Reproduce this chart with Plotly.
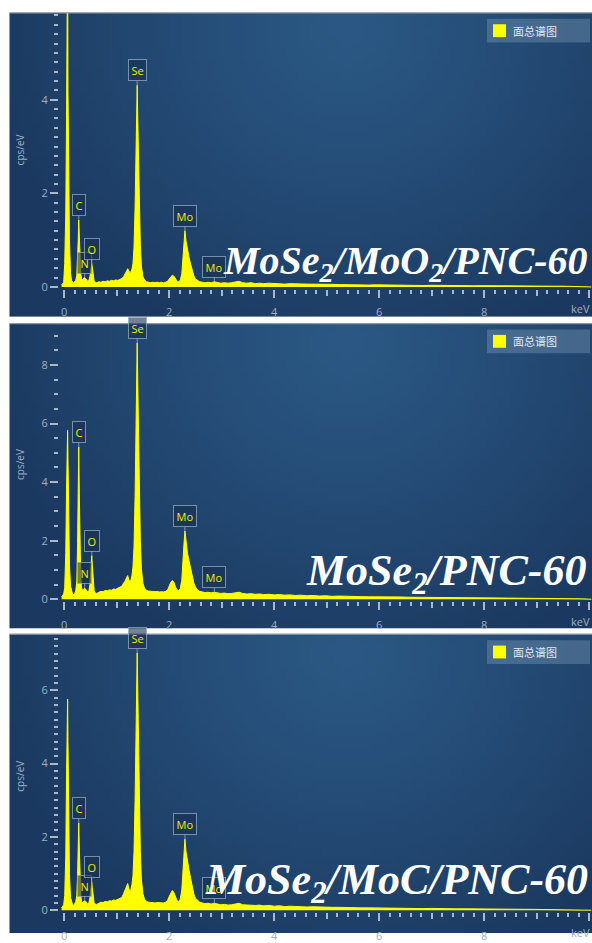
import base64
import math
import struct
import zlib

import plotly.graph_objects as go

# ---------------------------------------------------------------- data
# Energy grid (keV) shared by the three EDS spectra
ENERGY = [
    -0.05, -0.03, -0.01, 0.01, 0.03, 0.045, 0.058, 0.065, 0.072, 0.085, 0.10, 0.12, 0.14, 0.16, 0.18, 0.20, 0.22,
    0.24, 0.255, 0.267, 0.277, 0.288, 0.30, 0.315, 0.33, 0.35, 0.37, 0.39, 0.41, 0.43, 0.45, 0.47, 0.49, 0.505,
    0.515, 0.525, 0.535, 0.55, 0.57, 0.59,
    0.62, 0.66, 0.70, 0.74, 0.78, 0.82, 0.86, 0.90, 0.94, 0.98, 1.02, 1.06, 1.10, 1.13, 1.16, 1.19, 1.21, 1.23,
    1.25, 1.27, 1.29, 1.31, 1.33, 1.35, 1.37, 1.39, 1.41, 1.43, 1.45, 1.47, 1.50, 1.53, 1.57,
    1.61, 1.65, 1.69, 1.73, 1.77, 1.81, 1.85, 1.89, 1.93, 1.97, 2.00, 2.03, 2.06, 2.09, 2.12, 2.15, 2.18, 2.21,
    2.24, 2.26, 2.28, 2.30, 2.32, 2.35, 2.38, 2.41, 2.44, 2.47, 2.50, 2.54, 2.58,
    2.63, 2.68, 2.74, 2.80, 2.86, 2.92, 2.98, 3.05, 3.12, 3.19, 3.26, 3.33, 3.40, 3.48, 3.56, 3.64, 3.72, 3.80,
    3.90, 4.00, 4.10, 4.20, 4.30, 4.40, 4.50, 4.62, 4.74, 4.86, 4.98, 5.10, 5.24, 5.38, 5.52, 5.66, 5.80, 5.95,
    6.10, 6.25, 6.40, 6.55, 6.70, 6.85, 7.00, 7.16, 7.32, 7.48, 7.64, 7.80, 7.96, 8.12, 8.28, 8.44, 8.60, 8.78,
    8.96, 9.14, 9.32, 9.50, 9.68, 9.86, 10.04,
]

# cps/eV, MoSe2/MoO2/PNC-60
CPS_MOO2 = [
    0.04, 0.06, 0.10, 0.5, 1.6, 3.6, 4.3, 7.5, 4.2, 2.6, 1.0, 0.3, 0.14, 0.10, 0.09, 0.11, 0.14,
    0.25, 0.55, 1.0, 1.43, 0.95, 0.5, 0.28, 0.18, 0.15, 0.19, 0.2, 0.18, 0.14, 0.12, 0.14, 0.22, 0.36,
    0.46, 0.5, 0.42, 0.24, 0.13, 0.10,
    0.09, 0.11, 0.10, 0.12, 0.11, 0.13, 0.12, 0.14, 0.13, 0.15, 0.14, 0.16, 0.18, 0.22, 0.27, 0.34, 0.39, 0.33,
    0.30, 0.32, 0.38, 0.5, 0.85, 1.7, 3.0, 4.31, 3.1, 1.8, 0.9, 0.45, 0.22, 0.15, 0.11,
    0.10, 0.09, 0.10, 0.09, 0.10, 0.09, 0.10, 0.09, 0.10, 0.12, 0.17, 0.22, 0.25, 0.23, 0.17, 0.12, 0.11, 0.14,
    0.28, 0.55, 0.95, 1.2, 0.98, 0.75, 0.62, 0.48, 0.34, 0.24, 0.17, 0.13, 0.11,
    0.10, 0.09, 0.10, 0.09, 0.11, 0.09, 0.08, 0.09, 0.08, 0.09, 0.10, 0.12, 0.09, 0.08, 0.09, 0.07, 0.08, 0.07,
    0.08, 0.07, 0.07, 0.06, 0.07, 0.06, 0.065, 0.06, 0.055, 0.06, 0.05, 0.055, 0.05, 0.045, 0.05, 0.045, 0.04, 0.045,
    0.04, 0.04, 0.035, 0.04, 0.035, 0.03, 0.035, 0.03, 0.03, 0.028, 0.03, 0.025, 0.027, 0.024, 0.022, 0.024, 0.02, 0.02,
    0.018, 0.018, 0.016, 0.015, 0.012, 0.01, 0.0,
]

# cps/eV, MoSe2/PNC-60
CPS_PNC = [
    0.08, 0.12, 0.18, 0.4, 1.6, 3.8, 5.2, 5.77, 4.8, 2.8, 1.2, 0.45, 0.25, 0.18, 0.16, 0.2, 0.3,
    0.6, 1.9, 3.8, 5.2, 3.6, 1.7, 0.75, 0.4, 0.3, 0.34, 0.38, 0.34, 0.28, 0.24, 0.28, 0.5, 0.95,
    1.3, 1.49, 1.2, 0.6, 0.3, 0.22,
    0.20, 0.24, 0.27, 0.26, 0.30, 0.29, 0.32, 0.31, 0.35, 0.34, 0.38, 0.40, 0.45, 0.55, 0.62, 0.75, 0.81, 0.68,
    0.60, 0.65, 0.80, 1.1, 1.8, 3.5, 6.2, 8.75, 6.4, 3.8, 2.0, 1.05, 0.55, 0.38, 0.30,
    0.28, 0.27, 0.28, 0.26, 0.27, 0.25, 0.26, 0.25, 0.27, 0.32, 0.45, 0.58, 0.64, 0.58, 0.42, 0.32, 0.30, 0.36,
    0.65, 1.1, 1.85, 2.33, 1.95, 1.55, 1.3, 1.05, 0.78, 0.55, 0.42, 0.32, 0.27,
    0.25, 0.23, 0.24, 0.22, 0.24, 0.21, 0.20, 0.21, 0.19, 0.20, 0.21, 0.24, 0.20, 0.18, 0.19, 0.17, 0.18, 0.16,
    0.17, 0.15, 0.16, 0.14, 0.15, 0.13, 0.14, 0.12, 0.13, 0.11, 0.12, 0.10, 0.11, 0.095, 0.10, 0.09, 0.085, 0.09,
    0.08, 0.075, 0.08, 0.07, 0.07, 0.065, 0.07, 0.06, 0.06, 0.055, 0.055, 0.05, 0.05, 0.045, 0.045, 0.04, 0.04, 0.035,
    0.035, 0.03, 0.03, 0.025, 0.02, 0.015, 0.0,
]

# cps/eV, MoSe2/MoC/PNC-60
CPS_MOC = [
    0.06, 0.10, 0.15, 0.4, 1.5, 3.7, 5.1, 5.76, 4.6, 2.6, 1.0, 0.35, 0.20, 0.15, 0.14, 0.17, 0.24,
    0.4, 0.95, 1.8, 2.38, 1.7, 0.85, 0.42, 0.25, 0.2, 0.24, 0.26, 0.24, 0.2, 0.16, 0.2, 0.34, 0.55,
    0.7, 0.76, 0.62, 0.34, 0.20, 0.17,
    0.16, 0.19, 0.22, 0.21, 0.24, 0.23, 0.26, 0.25, 0.28, 0.27, 0.30, 0.32, 0.35, 0.45, 0.55, 0.66, 0.73, 0.60,
    0.52, 0.56, 0.70, 0.95, 1.6, 3.0, 5.1, 7.02, 5.2, 3.1, 1.6, 0.85, 0.45, 0.30, 0.24,
    0.22, 0.21, 0.22, 0.20, 0.21, 0.20, 0.21, 0.20, 0.22, 0.27, 0.38, 0.48, 0.54, 0.48, 0.34, 0.26, 0.24, 0.30,
    0.55, 0.95, 1.55, 1.94, 1.6, 1.28, 1.08, 0.86, 0.62, 0.44, 0.33, 0.26, 0.22,
    0.20, 0.18, 0.19, 0.17, 0.19, 0.16, 0.15, 0.16, 0.14, 0.15, 0.16, 0.19, 0.15, 0.14, 0.15, 0.13, 0.14, 0.12,
    0.13, 0.11, 0.12, 0.10, 0.11, 0.10, 0.10, 0.09, 0.095, 0.085, 0.09, 0.08, 0.08, 0.07, 0.075, 0.065, 0.065, 0.06,
    0.06, 0.055, 0.055, 0.05, 0.05, 0.045, 0.05, 0.042, 0.04, 0.038, 0.04, 0.035, 0.034, 0.032, 0.03, 0.03, 0.027, 0.025,
    0.024, 0.022, 0.02, 0.018, 0.015, 0.01, 0.0,
]

# identified lines: element label and energy (keV)
LINE_NAMES = ["C", "N", "O", "Se", "Mo", "Mo"]
LINE_KEV = [0.277, 0.39, 0.525, 1.39, 2.30, 2.86]

SAMPLE_NAMES = [
    "MoSe<sub>2</sub>/MoO<sub>2</sub>/PNC-60",
    "MoSe<sub>2</sub>/PNC-60",
    "MoSe<sub>2</sub>/MoC/PNC-60",
]
LEGEND_TEXT = "面总谱图"
X_TICKS = [0, 2, 4, 6, 8, 10]
X_TICK_TEXT = ["0", "2", "4", "6", "8", ""]
X_UNIT = "keV"

# ---------------------------------------------------------------- page geometry (px)
W, H = 592, 943
PANEL_LEFT = 9.5
PANELS = [
    dict(top=13, bottom=320, zero=290.0, scale=47.3, minor=0.2, cps=CPS_MOO2, title_y=152),
    dict(top=327, bottom=635, zero=605.7, scale=29.6, minor=0.5, cps=CPS_PNC, title_y=470),
    dict(top=641, bottom=943, zero=920.0, scale=37.05, minor=0.2, cps=CPS_MOC, title_y=785),
]
TEXT_POS = [(590, 266, 40), (588, 580, 44), (590, 892, 44)]
KEV_PX = 52.5
X_ZERO_PX = 64.2
PLOT_LEFT = 60.0
YAXIS_PX = 58.0

TICK_FONT = "#9db0c4"
TICK_COLOR = "#a9b9cb"


def fx(px):
    return px / W


def fy(py):
    return 1 - py / H


def _chunk(tag, data):
    return struct.pack(">I", len(data)) + tag + data + struct.pack(">I", zlib.crc32(tag + data) & 0xFFFFFFFF)


def gradient_png(w=96, h=48):
    """Soft radial blue backdrop used behind each spectrum panel."""
    inner = (42, 88, 132)
    outer = (27, 57, 96)
    raw = bytearray()
    for j in range(h):
        raw.append(0)
        v = j / (h - 1)
        for i in range(w):
            u = i / (w - 1)
            d = math.hypot((u - 0.58) * 1.0, (v - 0.05) * 0.55)
            t = min(1.0, d / 0.62) ** 1.2
            raw += bytes(int(round(a * (1 - t) + b * t)) for a, b in zip(inner, outer))
    png = b"\x89PNG\r\n\x1a\n"
    png += _chunk(b"IHDR", struct.pack(">IIBBBBB", w, h, 8, 2, 0, 0, 0))
    png += _chunk(b"IDAT", zlib.compress(bytes(raw), 9))
    png += _chunk(b"IEND", b"")
    return "data:image/png;base64," + base64.b64encode(png).decode()


BG = gradient_png()

fig = go.Figure()
layout = dict(
    width=W, height=H,
    margin=dict(l=0, r=0, t=0, b=0),
    paper_bgcolor="white",
    plot_bgcolor="rgba(0,0,0,0)",
    showlegend=False,
    images=[], shapes=[], annotations=[],
)

x_range = [(PLOT_LEFT - X_ZERO_PX) / KEV_PX, (W - X_ZERO_PX) / KEV_PX]

for k, p in enumerate(PANELS):
    n = k + 1
    xa = "x" if n == 1 else f"x{n}"
    ya = "y" if n == 1 else f"y{n}"
    xa_mid = f"x{n + 3}"
    plot_bottom = p["zero"] + 2.2
    y_range = [(p["zero"] - plot_bottom) / p["scale"], (p["zero"] - p["top"]) / p["scale"]]

    # panel backdrop and its thin top edge
    layout["images"].append(dict(
        source=BG, xref="paper", yref="paper", x=fx(PANEL_LEFT), y=fy(p["top"]),
        sizex=fx(W - PANEL_LEFT), sizey=(p["bottom"] - p["top"]) / H,
        xanchor="left", yanchor="top", sizing="stretch", layer="below",
    ))
    layout["shapes"].append(dict(
        type="line", xref="paper", yref="paper", x0=fx(PANEL_LEFT), x1=1, y0=fy(p["top"]), y1=fy(p["top"]),
        line=dict(color="#8f969e", width=1.2),
    ))

    fig.add_trace(go.Scatter(
        x=ENERGY, y=p["cps"], mode="lines", fill="tozeroy",
        line=dict(color="#ffff00", width=1), fillcolor="#ffff00",
        xaxis=xa, yaxis=ya, hoverinfo="skip", cliponaxis=True,
    ))
    # carrier for the mid-length 1, 3, 5 ... keV ticks
    fig.add_trace(go.Scatter(x=[None], y=[None], xaxis=xa_mid, yaxis=ya, hoverinfo="skip"))

    xdom = [fx(PLOT_LEFT), 1.0]
    ydom = [fy(plot_bottom), fy(p["top"])]
    layout["xaxis" if n == 1 else f"xaxis{n}"] = dict(
        domain=xdom, range=x_range, anchor=ya, showgrid=False, zeroline=False, showline=False,
        tickmode="array", tickvals=X_TICKS, ticktext=X_TICK_TEXT,
        ticks="outside", ticklen=8, tickwidth=2, tickcolor=TICK_COLOR, ticklabelstandoff=5,
        tickfont=dict(family="Open Sans", size=11, color=TICK_FONT),
        minor=dict(tickmode="linear", tick0=0, dtick=0.2, ticks="outside", ticklen=4, tickwidth=2, tickcolor=TICK_COLOR),
        fixedrange=True,
    )
    layout[f"xaxis{n + 3}"] = dict(
        overlaying=xa, range=x_range, anchor=ya, showgrid=False, zeroline=False, showline=False,
        tickmode="array", tickvals=[1, 3, 5, 7, 9], showticklabels=False,
        ticks="outside", ticklen=6, tickwidth=2, tickcolor=TICK_COLOR, fixedrange=True,
    )
    layout["yaxis" if n == 1 else f"yaxis{n}"] = dict(
        domain=ydom, range=y_range, anchor="free", position=fx(YAXIS_PX), showgrid=False, zeroline=False,
        showline=False, tickmode="linear", tick0=0, dtick=2,
        ticks="outside", ticklen=8, tickwidth=2, tickcolor=TICK_COLOR,
        tickfont=dict(family="Open Sans", size=11, color=TICK_FONT),
        minor=dict(tickmode="linear", tick0=0, dtick=p["minor"], ticks="outside", ticklen=4, tickwidth=2,
                   tickcolor=TICK_COLOR),
        fixedrange=True,
    )

    # axis units
    layout["annotations"].append(dict(
        text="cps/eV", xref="paper", yref="paper", x=fx(20), y=fy(p["title_y"]), textangle=-90,
        xanchor="center", yanchor="middle",
        showarrow=False, font=dict(family="Open Sans", size=10, color=TICK_FONT),
    ))
    layout["annotations"].append(dict(
        text=X_UNIT, xref="paper", yref="paper", x=1.0, y=fy(p["zero"] + 22),
        xanchor="right", yanchor="middle", showarrow=False,
        font=dict(family="Open Sans", size=11, color=TICK_FONT),
    ))

    # element markers on the spectrum
    for name, kev in zip(LINE_NAMES, LINE_KEV):
        idx = min(range(len(ENERGY)), key=lambda i: abs(ENERGY[i] - kev))
        layout["annotations"].append(dict(
            text=name, x=ENERGY[idx], y=p["cps"][idx], xref=xa, yref=ya,
            showarrow=True, arrowhead=0, arrowwidth=1, arrowcolor="rgba(150,172,196,0.8)",
            ax=0, ay=-15, standoff=0,
            bgcolor="rgba(24,48,80,0.6)", bordercolor="rgba(150,172,196,0.75)", borderwidth=1, borderpad=2.5,
            font=dict(family="Open Sans", size=11, color="#f0f000"),
        ))

    # legend swatch
    ly0 = p["top"] + 6
    layout["shapes"].append(dict(
        type="rect", xref="paper", yref="paper", x0=fx(487), x1=fx(590), y0=fy(ly0 + 24), y1=fy(ly0),
        fillcolor="rgba(120,150,182,0.42)", line=dict(width=0), layer="above",
    ))
    layout["shapes"].append(dict(
        type="rect", xref="paper", yref="paper", x0=fx(493), x1=fx(506), y0=fy(ly0 + 18.5), y1=fy(ly0 + 5.5),
        fillcolor="#ffff00", line=dict(width=0), layer="above",
    ))
    layout["annotations"].append(dict(
        text=LEGEND_TEXT, xref="paper", yref="paper", x=fx(511), y=fy(ly0 + 12),
        xanchor="left", yanchor="middle", showarrow=False,
        font=dict(family="Noto Sans CJK SC", size=11, color="#e3e9f0"),
    ))

    # sample name
    tx, ty, ts = TEXT_POS[k]
    layout["annotations"].append(dict(
        text=f"<b><i>{SAMPLE_NAMES[k]}</i></b>", xref="paper", yref="paper", x=fx(tx), y=fy(ty),
        xanchor="right", yanchor="middle", showarrow=False,
        font=dict(family="Liberation Serif", size=ts, color="white"),
    ))

fig.update_layout(**layout)
fig.write_html("out.html")
